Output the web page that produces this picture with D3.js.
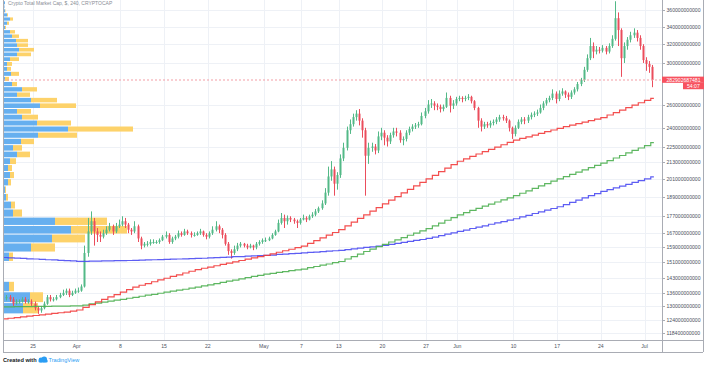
<!DOCTYPE html>
<html><head><meta charset="utf-8">
<script src="https://cdn.jsdelivr.net/npm/d3@7/dist/d3.min.js"></script>
<style>
body{margin:0;background:#fff;}
svg{display:block;font-family:Arial,"Liberation Sans",sans-serif;}
</style>
</head><body>
<svg id="c" width="705" height="368"></svg>
<script>
// ---------------- DATA (prices in billions USD) ----------------
const titleText = "Crypto Total Market Cap, $, 240, CRYPTOCAP";
const firstCandle = "2019-03-20T12:00:00Z";
const candleHours = 12;
const firstOpen = 133.5;
const closes = [134,
133,131, 132,132, 133,132, 132,131, 129,128, 129,131, 134,133, 133,134, 135,136, 137,135, 136,137,
137,139, 156,168, 174,168, 166,165, 167,169, 171,168, 171,172, 174,172, 169,168, 171,164,
160,161, 161,162, 162,162, 163,165, 166,162, 164,165, 167,166, 168,167, 166,166, 167,168,
166,165, 167,169, 171,169, 166,161, 157,156, 158,160, 161,160, 159,160, 159,161, 162,163,
163,164, 166,168, 173,176, 174,176, 175,174, 173,175, 176,175, 177,178, 180,182, 185,192,
203,208, 198,204, 216,224, 238,243, 249,252, 246,238, 218,224, 225,222, 233,236, 232,229,
234,237, 236,230, 231,236, 239,241, 242,243, 250,254, 260,261, 259,258, 256,258, 266,259, 261,265,
266,265, 266,267, 263,257, 246,241, 243,242, 244,245, 247,249, 248,246, 240,235, 240,245,
247,246, 249,251, 252,253, 257,261, 264,266, 270,265, 270,272, 269,267, 271,274, 279,283,
293,305, 318,312, 314,313, 316,312, 318,326, 350,336, 305,318, 325,330, 333,327, 318,303,
299,296, 282.9];
const highs = [135,
135,134, 133,133, 134,134, 133,133, 132,130, 130,132, 135,135, 134,135, 136,137.5, 138,138, 137,138,
138.5,140, 160,176, 180,176, 170,168, 169,171, 173,172, 173,175, 177,176, 173,170, 174,172,
165,162, 162.5,163.5, 163.5,163, 164,166, 168,167, 165,166, 168.5,168, 169.5,169, 168,167.5, 168,169.5,
168.5,167, 168,171, 174,172, 170,167, 162,158, 160,161.5, 162,161.5, 161,161, 160.5,162, 163,164,
164.5,165, 167,169, 175,179, 178,177.5, 177,176, 175,176, 178,177, 178,179.5, 181.5,183, 187,195,
210,214, 210,206, 219,228, 241,247, 252,255, 256,248, 240,228, 228,227, 237,240, 238,234,
236,240, 240,238, 233,238, 241,243, 244,245, 253,257, 264,265, 263,261, 260,260, 271,268, 264,267,
268,267.5, 268,269.5, 268,264, 258,248, 245,245, 246,247, 249,251, 251,250, 247,241, 242,247,
249,249, 251,253, 254,255.5, 260,263, 266,268, 274,272, 273,275, 273,271, 273,276, 281,285,
296,309, 327,322, 318,317, 319,318, 321,330, 371,357, 338,322, 328,334, 338,336, 330,320,
306,302, 298];
const lows = [132.5,
132,130, 130.5,131, 131.5,131, 131,130, 128,126.5, 127,128.5, 130.5,132, 132,132.5, 133.5,134.5, 135,134, 134.5,135.5,
136,136.5, 138.5,154, 166,160, 162,162, 164,166, 168,166, 167,170, 171,170, 167,166, 167,162,
158,159, 159.5,160, 161,161, 161,162.5, 164,161, 161,163, 164,165, 165.5,166, 164.5,165, 165.5,166,
165,163.5, 164,166, 168,167, 164,160, 155,153, 155,157, 159,159, 158,158.5, 157.5,158, 160,161,
162,162.5, 163.5,165.5, 167.5,172, 170,172, 173.5,172.5, 170,172, 174.5,173.5, 174.5,176, 177,179, 181,184,
190,200, 190,194, 202,214, 222,235, 241,246, 242,232, 190,212, 221,219, 220,230, 226,225,
227,232, 233,228, 226,229, 234,237, 239,240, 242,248, 252,257, 255,255, 253,254, 257,253, 256,259,
263,262, 263,264, 261,255, 240,237, 239,240, 240,242, 243,245, 246,244, 237,231, 233,239,
243,243, 244,247, 249,250, 252,255, 259,262, 264,261, 263,268, 266,264, 265,269, 272,277,
281,291, 303,305, 309,310, 311,309, 310,316, 324,318, 286,300, 314,322, 327,323, 314,300,
292,290, 276];

// daily moving averages, one value per day starting 2019-03-20
const maStart = "2019-03-20T00:00:00Z";
const maRed = [124.3,124.6,124.9,125.2,125.5,125.8,126.1,126.4,126.7,127.0,127.3,127.7,128.2,
129.4,130.6,131.8,133.0,134.1,135.2,136.3,137.5,138.7,
139.6,140.4,141.3,142.2,143.0,143.9,144.7,145.6,146.5,147.3,
148.0,148.6,149.3,150.0,150.6,151.3,152.0,152.7,153.4,154.0,154.7,
155.5,156.4,157.2,158.0,158.9,159.7,
161.2,162.8,164.3,165.9,167.4,169.0,
171.2,173.5,175.7,177.9,180.2,182.4,184.7,
187.1,189.4,191.8,194.2,196.5,198.9,201.3,
203.8,206.4,208.9,211.4,213.9,
215.7,217.5,219.3,221.1,222.8,224.6,226.4,228.2,230.0,
231.4,232.7,234.1,235.5,236.9,238.2,239.6,
240.9,242.2,243.5,244.7,246.0,247.3,248.6,
250.8,252.9,255.1,257.3,259.5,261.6,263.8,
265.6];
const maGreen = [129.6,129.6,129.7,129.7,129.7,129.8,129.8,129.8,129.9,129.9,129.9,130.0,130.0,
130.4,130.9,131.3,131.7,132.2,132.6,133.0,133.5,133.9,
134.4,134.9,135.3,135.8,136.3,136.8,137.3,137.7,138.2,138.7,
139.3,139.8,140.4,141.0,141.6,142.1,142.7,143.3,143.9,144.4,145.0,
145.4,145.9,146.3,146.8,147.2,147.6,
148.3,148.9,149.6,150.2,150.9,151.5,
152.8,154.1,155.4,156.8,158.1,159.4,160.7,
162.0,163.2,164.5,165.8,167.0,168.3,169.6,
171.3,172.9,174.6,176.2,177.9,
179.2,180.6,181.9,183.3,184.6,185.9,187.3,188.6,190.0,
191.6,193.2,194.8,196.5,198.1,199.7,201.3,
202.9,204.5,206.1,207.7,209.3,210.9,212.5,
214.4,216.3,218.2,220.1,222.0,223.9,225.8,
228.0];
const maBlue = [153.6,153.4,153.3,153.1,152.9,152.8,152.6,
152.4,152.3,152.1,151.9,151.8,151.6,
151.6,151.7,151.7,151.8,151.8,151.9,151.9,152.0,152.1,
152.2,152.3,152.4,152.5,152.6,152.7,152.8,152.9,153.0,153.1,
153.2,153.4,153.5,153.7,153.8,154.0,154.1,154.3,154.4,154.6,154.7,
154.9,155.2,155.4,155.6,155.8,156.1,156.3,156.5,156.7,157.0,157.2,157.4,
157.8,158.2,158.6,159.0,159.3,159.7,160.1,
160.7,161.2,161.8,162.3,162.9,163.4,164.0,
164.8,165.6,166.4,167.2,168.0,
168.8,169.7,170.5,171.3,172.2,173.0,173.8,174.7,175.5,
176.6,177.6,178.7,179.7,180.8,181.8,182.9,
184.3,185.7,187.1,188.6,190.0,191.4,192.8,
194.0,195.2,196.4,197.6,198.9,200.1,201.3,
202.7];

// volume profile rows (price bands of 5B starting at 126.5B), up / down volume
const vpLow = 126.5;
const vpStep = 5;
const vpUp =   [19,26,5,0,0,5,27,48,67,51,9,7,2,1,4,6,4,6,13,9,17,34,64,33,18,13,36,27,13,18,8,1,7,3,3,6,13,15,13,12,8,6,1,3,6,3,1,0.5,1];
const vpDown = [15,13,5,0,0,4,24,33,56,52,9,4,2,1,3,4,4,6,13,9,13,39,65,34,16,14,36,26,13,15,5,4,8,4,5,9,14,15,11,12,7,5,1,2,3,1,0.5,0,0];

const priceTicks = [360,340,320,300,260,240,225,213,201,189,177,167,159,151,143,136,130,124,118.4];
const dateTicks = [["2019-03-25","25"],["2019-04-01","Apr"],["2019-04-08","8"],["2019-04-15","15"],
["2019-04-22","22"],["2019-05-01","May"],["2019-05-07","7"],["2019-05-13","13"],["2019-05-20","20"],
["2019-05-27","27"],["2019-06-01","Jun"],["2019-06-10","10"],["2019-06-17","17"],["2019-06-24","24"],["2019-07-01","Jul"]];
const lastPriceLabel = "282902687481";
const countdownLabel = "54:07";

// ---------------- CHART ----------------
const svg = d3.select("#c");
const W = 705, H = 368;
const plotL = 3, plotR = 662, plotB = 340, axisB = 352, frameR = 703;
const DAY = 864e5;
const t0 = Date.UTC(2019,2,25);
const x = d3.scaleUtc()
  .domain([new Date(t0 - 4.8077*DAY), new Date(t0 + 100.801*DAY)])
  .range([plotL, plotR]);
const y = d3.scaleLog().domain([118.4, 360]).range([333.1, 10]);

const green = "#53b987", red = "#eb4d5c";
const gridC = "#eef1f6", lineC = "#a9acb4", textC = "#4c525e";

svg.append("rect").attr("width", W).attr("height", H).attr("fill", "#fff");

svg.append("defs").append("clipPath").attr("id","plotclip")
  .append("rect").attr("x", plotL).attr("y", 0).attr("width", plotR-plotL).attr("height", plotB);

const plot = svg.append("g").attr("clip-path","url(#plotclip)");

// grid
plot.append("g").selectAll("line.v").data(dateTicks).join("line")
  .attr("x1", d => Math.round(x(new Date(d[0]+"T00:00:00Z")))+0.5)
  .attr("x2", d => Math.round(x(new Date(d[0]+"T00:00:00Z")))+0.5)
  .attr("y1", 0).attr("y2", plotB).attr("stroke", gridC).attr("stroke-width", 1);
plot.append("g").selectAll("line.h").data(priceTicks).join("line")
  .attr("x1", plotL).attr("x2", plotR)
  .attr("y1", d => Math.round(y(d))+0.5).attr("y2", d => Math.round(y(d))+0.5)
  .attr("stroke", gridC).attr("stroke-width", 1);

// title (top edge)
svg.append("text").attr("x", 8).attr("y", 4.6).attr("font-size", 5).attr("fill", "#8a8d96")
  .text(titleText);

// volume profile
const vpX = d3.scaleLinear().domain([0, 129]).range([0, 129]);
const vpRows = vpUp.map((u, k) => ({k, up: u, down: vpDown[k], lo: vpLow + k*vpStep, hi: vpLow + (k+1)*vpStep}));
const vpG = plot.append("g");
vpRows.forEach(r => {
  const y0 = y(r.hi) + 0.5, y1 = y(r.lo) - 0.5;
  if (r.up > 0) vpG.append("rect").attr("x", 4).attr("y", y0).attr("width", vpX(r.up)).attr("height", y1-y0)
     .attr("fill", "#5eabee").attr("fill-opacity", 0.95);
  if (r.down > 0) vpG.append("rect").attr("x", 4 + vpX(r.up)).attr("y", y0).attr("width", vpX(r.down)).attr("height", y1-y0)
     .attr("fill", "#fdd062").attr("fill-opacity", 0.95);
});

// candles
const c0 = new Date(firstCandle).getTime();
const candles = closes.map((c, i) => ({
  t: new Date(c0 + (i + 0.5) * candleHours * 3600e3),
  o: i === 0 ? firstOpen : closes[i-1], c, h: highs[i], l: lows[i]
}));
const cg = plot.append("g");
candles.forEach(d => {
  const xm = Math.round(x(d.t));
  const col = d.c >= d.o ? green : red;
  cg.append("line").attr("x1", xm+0.5).attr("x2", xm+0.5).attr("y1", y(d.h)).attr("y2", y(d.l))
    .attr("stroke", col).attr("stroke-width", 1);
  const top = y(Math.max(d.o, d.c)), bot = y(Math.min(d.o, d.c));
  cg.append("rect").attr("x", xm-0.5).attr("y", top).attr("width", 2).attr("height", Math.max(1, bot-top))
    .attr("fill", col);
});

// moving averages (daily steps)
const m0 = new Date(maStart).getTime();
const lastTime = new Date(c0 + closes.length * candleHours * 3600e3);
function maPoints(arr){
  const pts = arr.map((v, d) => ({t: new Date(m0 + d*DAY), v}));
  pts.push({t: lastTime, v: arr[arr.length-1]});
  return pts;
}
const stepLine = d3.line().x(d => x(d.t)).y(d => y(d.v)).curve(d3.curveStepAfter);
[[maBlue, "#4b4bf2"], [maGreen, "#4caf50"], [maRed, "#f23b3b"]].forEach(([arr, col]) => {
  plot.append("path").attr("d", stepLine(maPoints(arr))).attr("fill", "none")
    .attr("stroke", col).attr("stroke-width", 1.2).attr("stroke-opacity", 0.9);
});

// current price line
const lastY = y(closes[closes.length-1]);
plot.append("line").attr("x1", plotL).attr("x2", plotR).attr("y1", lastY).attr("y2", lastY)
  .attr("stroke", "#f4a3aa").attr("stroke-width", 1.5).attr("stroke-dasharray", "2,2").attr("stroke-opacity", 0.7);

// frame & axes lines
const fr = svg.append("g").attr("stroke", lineC).attr("stroke-width", 1).attr("shape-rendering", "crispEdges");
fr.append("line").attr("x1", plotL).attr("x2", plotL).attr("y1", 0).attr("y2", axisB);
fr.append("line").attr("x1", plotR).attr("x2", plotR).attr("y1", 0).attr("y2", axisB);
fr.append("line").attr("x1", frameR).attr("x2", frameR).attr("y1", 0).attr("y2", axisB);
fr.append("line").attr("x1", plotL).attr("x2", frameR).attr("y1", plotB).attr("y2", plotB);
fr.append("line").attr("x1", plotL).attr("x2", frameR).attr("y1", axisB).attr("y2", axisB);

// right price axis
const fmt = v => d3.format("d")(Math.round(v * 1e9));
const ya = svg.append("g");
priceTicks.forEach(v => {
  const yy = Math.round(y(v)) + 0.5;
  ya.append("line").attr("x1", plotR).attr("x2", plotR+3).attr("y1", yy).attr("y2", yy).attr("stroke", lineC);
  ya.append("text").attr("x", plotR+4.5).attr("y", yy + 1.8).attr("font-size", 5.1).attr("fill", textC).text(fmt(v));
});

// bottom date axis
const xa = svg.append("g");
dateTicks.forEach(d => {
  const xx = x(new Date(d[0]+"T00:00:00Z"));
  xa.append("text").attr("x", xx).attr("y", 347.8).attr("text-anchor", "middle")
    .attr("font-size", 5.1).attr("fill", textC).text(d[1]);
});

// last price label
svg.append("rect").attr("x", plotR).attr("y", lastY-3.4).attr("width", frameR-plotR+1).attr("height", 6.2).attr("fill", "#f7525f");
svg.append("text").attr("x", plotR+4.5).attr("y", lastY+1.8).attr("font-size", 5.1).attr("fill", "#fff").text(lastPriceLabel);
svg.append("rect").attr("x", 683).attr("y", lastY+2.8).attr("width", frameR-683+1).attr("height", 6.4).attr("fill", "#f7525f");
svg.append("text").attr("x", 687).attr("y", lastY+7.7).attr("font-size", 5.1).attr("fill", "#fff").text(countdownLabel);

// footer
svg.append("text").attr("x", 3).attr("y", 362).attr("font-size", 5.6).attr("font-weight", "bold").attr("fill", "#131722").text("Created with");
const logo = svg.append("g").attr("fill", "#2a9df4");
logo.append("circle").attr("cx", 41).attr("cy", 360).attr("r", 2.4);
logo.append("circle").attr("cx", 44.2).attr("cy", 359.4).attr("r", 2.8);
logo.append("rect").attr("x", 38.6).attr("y", 359.6).attr("width", 9).attr("height", 2.8).attr("rx", 1.2);
svg.append("text").attr("x", 48.5).attr("y", 362).attr("font-size", 5.6).attr("fill", "#2a9df4").text("TradingView");
</script>
</body></html>
